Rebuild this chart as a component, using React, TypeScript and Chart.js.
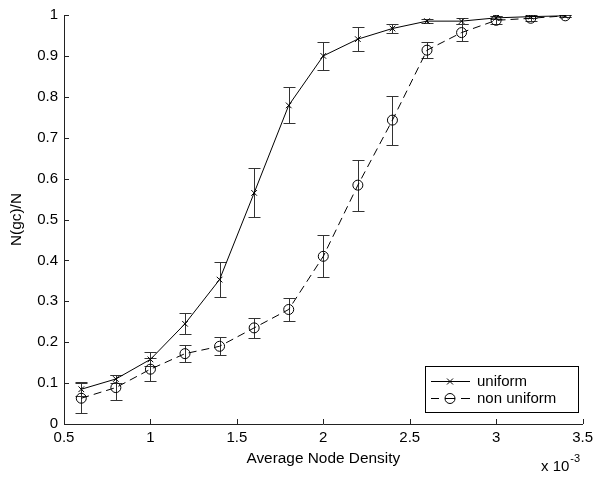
import React, { useEffect, useRef } from "react";
import { Chart, registerables } from "chart.js";

Chart.register(...registerables);

const xValues = [0.6, 0.8, 1.0, 1.2, 1.4, 1.6, 1.8, 2.0, 2.2, 2.4, 2.6, 2.8, 3.0, 3.2, 3.4];
const uniformMean = [0.085, 0.11, 0.158, 0.245, 0.353, 0.565, 0.779, 0.9, 0.941, 0.967, 0.985, 0.985, 0.993, 0.996, 0.998];
const uniformErr = [0.017, 0.009, 0.017, 0.026, 0.043, 0.06, 0.044, 0.034, 0.03, 0.012, 0.004, 0.008, 0.004, 0.003, 0.002];
const nonUniformMean = [0.063, 0.089, 0.134, 0.172, 0.19, 0.235, 0.28, 0.41, 0.584, 0.743, 0.914, 0.957, 0.987, 0.992, 0.998];
const nonUniformErr = [0.037, 0.03, 0.028, 0.021, 0.022, 0.024, 0.029, 0.051, 0.062, 0.06, 0.02, 0.02, 0.01, 0.006, 0.002];

const seriesNames = ["uniform", "non uniform"];
const xTickValues = [0.5, 1, 1.5, 2, 2.5, 3, 3.5];
const yTickValues = [0, 0.1, 0.2, 0.3, 0.4, 0.5, 0.6, 0.7, 0.8, 0.9, 1];
const xTitle = "Average Node Density";
const yTitle = "N(gc)/N";
const xExponentBase = "x 10";
const xExponent = "-3";

const FONT = "'Liberation Sans', Arial, Helvetica, sans-serif";
const AXIS_COLOR = "#222";

const matlabPlugin = {
  id: "matlabStyle",
  beforeDatasetsDraw(chart: any) {
    const ctx = chart.ctx;
    const xs = chart.scales.x;
    const ys = chart.scales.y;
    const sets = [
      { m: uniformMean, e: uniformErr },
      { m: nonUniformMean, e: nonUniformErr },
    ];
    ctx.save();
    ctx.strokeStyle = "#333";
    ctx.lineWidth = 1;
    sets.forEach((s) => {
      xValues.forEach((xv, j) => {
        const px = Math.round(xs.getPixelForValue(xv)) + 0.5;
        const top = Math.round(ys.getPixelForValue(s.m[j] + s.e[j])) + 0.5;
        const bot = Math.round(ys.getPixelForValue(s.m[j] - s.e[j])) + 0.5;
        ctx.beginPath();
        ctx.moveTo(px, top);
        ctx.lineTo(px, bot);
        ctx.moveTo(px - 6, top);
        ctx.lineTo(px + 6, top);
        ctx.moveTo(px - 6, bot);
        ctx.lineTo(px + 6, bot);
        ctx.stroke();
      });
    });
    ctx.restore();
  },
  afterDraw(chart: any) {
    const ctx = chart.ctx;
    const xs = chart.scales.x;
    const ys = chart.scales.y;
    const area = chart.chartArea;
    ctx.save();
    // inward ticks
    ctx.strokeStyle = AXIS_COLOR;
    ctx.lineWidth = 1;
    ctx.beginPath();
    xTickValues.forEach((v) => {
      const px = Math.round(xs.getPixelForValue(v)) + 0.5;
      ctx.moveTo(px, area.bottom);
      ctx.lineTo(px, area.bottom - 5);
    });
    yTickValues.forEach((v) => {
      const py = Math.round(ys.getPixelForValue(v)) + 0.5;
      ctx.moveTo(area.left, py);
      ctx.lineTo(area.left + 5, py);
    });
    ctx.stroke();

    // axis titles
    ctx.fillStyle = "#000";
    ctx.font = `15.4px ${FONT}`;
    ctx.textAlign = "center";
    ctx.textBaseline = "alphabetic";
    ctx.fillText(xTitle, (area.left + area.right) / 2, 462.5);
    ctx.save();
    ctx.translate(21, (area.top + area.bottom) / 2);
    ctx.rotate(-Math.PI / 2);
    ctx.fillText(yTitle, 0, 0);
    ctx.restore();

    // exponent label
    ctx.textAlign = "left";
    ctx.textBaseline = "alphabetic";
    ctx.font = `15px ${FONT}`;
    ctx.fillText(xExponentBase, 541, 471);
    const w = ctx.measureText(xExponentBase).width;
    ctx.font = `11px ${FONT}`;
    ctx.fillText(xExponent, 541 + w + 1, 462);

    // legend
    const lx = 425.5, ly = 366.5, lw = 153, lh = 46;
    ctx.fillStyle = "#fff";
    ctx.fillRect(lx, ly, lw, lh);
    ctx.strokeStyle = "#000";
    ctx.lineWidth = 1;
    ctx.strokeRect(lx, ly, lw, lh);
    const r1 = 381.5, r2 = 398.5;
    const mx = 450;
    // row 1
    ctx.beginPath();
    ctx.moveTo(431, r1);
    ctx.lineTo(470, r1);
    ctx.moveTo(mx - 3, r1 - 3);
    ctx.lineTo(mx + 3, r1 + 3);
    ctx.moveTo(mx - 3, r1 + 3);
    ctx.lineTo(mx + 3, r1 - 3);
    ctx.stroke();
    // row 2
    ctx.beginPath();
    ctx.moveTo(431, r2);
    ctx.lineTo(439, r2);
    ctx.moveTo(445, r2);
    ctx.lineTo(455, r2);
    ctx.moveTo(461, r2);
    ctx.lineTo(470, r2);
    ctx.stroke();
    ctx.beginPath();
    ctx.arc(mx, r2, 5, 0, Math.PI * 2);
    ctx.stroke();
    ctx.fillStyle = "#000";
    ctx.font = `15px ${FONT}`;
    ctx.textBaseline = "middle";
    ctx.fillText(seriesNames[0], 477, r1 + 0.5);
    ctx.fillText(seriesNames[1], 477, r2 + 0.5);
    ctx.restore();
  },
};

export default function App() {
  const canvasRef = useRef<HTMLCanvasElement | null>(null);

  useEffect(() => {
    const canvas = canvasRef.current;
    if (!canvas) return;
    const chart = new Chart(canvas, {
      type: "line",
      data: {
        datasets: [
          {
            label: seriesNames[0],
            data: xValues.map((x, i) => ({ x, y: uniformMean[i] })),
            borderColor: "#000",
            borderWidth: 1,
            pointStyle: "crossRot",
            pointRadius: 4,
            pointBorderColor: "#000",
            pointBorderWidth: 1,
            pointBackgroundColor: "#000",
            fill: false,
            tension: 0,
          },
          {
            label: seriesNames[1],
            data: xValues.map((x, i) => ({ x, y: nonUniformMean[i] })),
            borderColor: "#000",
            borderWidth: 1,
            borderDash: [8, 5],
            pointStyle: "circle",
            pointRadius: 5,
            pointBorderColor: "#000",
            pointBorderWidth: 1,
            pointBackgroundColor: "rgba(0,0,0,0)",
            fill: false,
            tension: 0,
          },
        ],
      },
      options: {
        responsive: false,
        animation: false,
        events: [],
        layout: { padding: { left: 0, top: 14, right: 12, bottom: 0 } },
        plugins: {
          legend: { display: false },
          tooltip: { enabled: false },
          title: { display: false },
        },
        scales: {
          x: {
            type: "linear",
            min: 0.5,
            max: 3.5,
            afterFit: (s: any) => {
              s.height = 53;
            },
            afterBuildTicks: (s: any) => {
              s.ticks = xTickValues.map((v) => ({ value: v }));
            },
            grid: { display: false, drawTicks: false },
            border: { display: true, color: AXIS_COLOR, width: 1 },
            ticks: {
              color: "#000",
              padding: 5,
              maxRotation: 0,
              autoSkip: false,
              font: { family: FONT, size: 15 },
              callback: (v: any) => String(Math.round(Number(v) * 10) / 10),
            },
          },
          y: {
            type: "linear",
            min: 0,
            max: 1,
            afterFit: (s: any) => {
              s.width = 64;
            },
            afterBuildTicks: (s: any) => {
              s.ticks = yTickValues.map((v) => ({ value: v }));
            },
            grid: { display: false, drawTicks: false },
            border: { display: true, color: AXIS_COLOR, width: 1 },
            ticks: {
              color: "#000",
              padding: 6,
              autoSkip: false,
              font: { family: FONT, size: 15 },
              callback: (v: any) => String(Math.round(Number(v) * 10) / 10),
            },
          },
        },
      },
      plugins: [matlabPlugin],
    });
    return () => chart.destroy();
  }, []);

  return (
    <div style={{ position: "absolute", left: 0, top: 0, width: 598, height: 477, background: "#fff" }}>
      <canvas ref={canvasRef} width={598} height={477} />
    </div>
  );
}
